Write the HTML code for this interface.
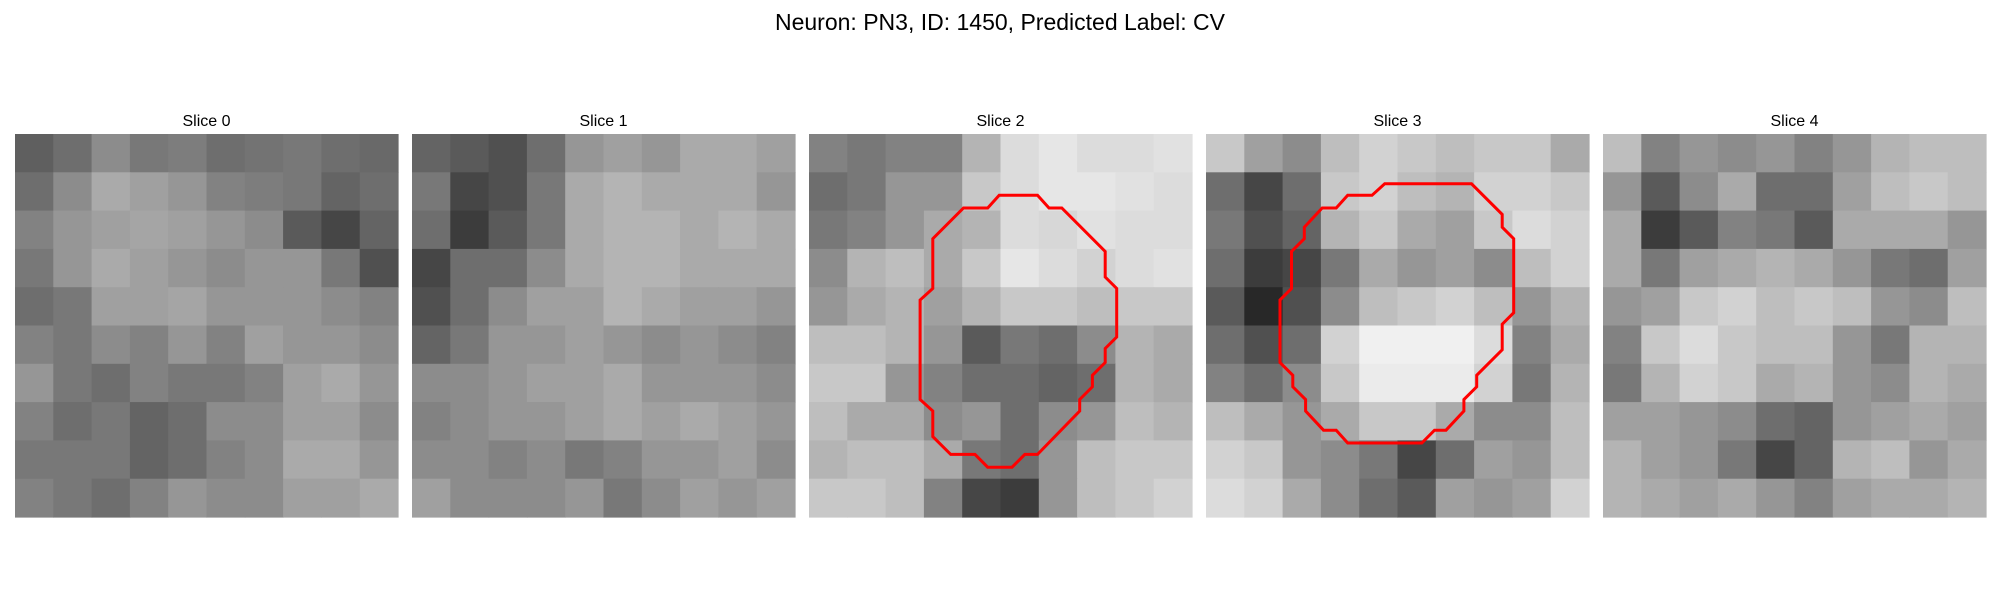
<!DOCTYPE html>
<html><head><meta charset="utf-8"><title>Neuron slices</title>
<style>
html,body{margin:0;padding:0;background:#fff;width:2000px;height:600px;overflow:hidden}
svg{display:block}
text{font-family:"Liberation Sans","DejaVu Sans",sans-serif;fill:#000}
</style></head>
<body>
<svg id="fig" width="2000" height="600" viewBox="0 0 2000 600" xmlns="http://www.w3.org/2000/svg">
<text x="1000" y="30" font-size="23" text-anchor="middle">Neuron: PN3, ID: 1450, Predicted Label: CV</text>
<g id="panels"></g>
</svg>
<script>
const sliceTitles = ["Slice 0","Slice 1","Slice 2","Slice 3","Slice 4"];
const slice0 = [
[95,110,140,120,125,110,115,120,110,105],
[110,140,170,160,150,130,125,120,100,110],
[130,150,160,165,160,150,140,90,70,100],
[120,150,170,160,150,140,150,150,120,80],
[110,120,160,160,165,150,150,150,140,130],
[130,120,140,130,150,130,160,150,150,140],
[150,120,110,130,120,120,130,160,170,150],
[130,110,120,100,110,140,140,160,160,140],
[120,120,120,100,110,130,140,170,170,150],
[130,120,110,130,150,140,140,160,160,170]];
const slice1 = [
[100,90,80,110,150,160,150,170,170,160],
[120,70,80,120,170,180,170,170,170,150],
[110,60,90,120,170,180,180,170,180,170],
[70,110,110,140,170,180,180,170,170,170],
[80,110,140,160,160,180,170,160,160,150],
[100,120,150,150,160,150,140,150,140,130],
[140,140,150,160,160,170,150,150,150,140],
[130,140,150,150,160,170,160,170,160,150],
[140,140,130,140,120,130,150,150,160,140],
[160,140,140,140,150,120,140,160,150,160]];
const slice2 = [
[130,120,130,130,180,220,230,220,220,225],
[110,120,150,150,200,220,230,230,225,220],
[120,130,150,170,180,220,215,225,220,220],
[140,180,190,170,200,230,220,210,220,225],
[150,170,180,160,180,200,200,190,200,200],
[190,190,180,150,90,120,110,140,180,170],
[200,200,150,130,110,110,100,110,180,170],
[190,170,170,140,150,110,140,150,190,180],
[180,190,190,170,120,110,150,190,200,200],
[200,200,190,130,70,60,150,190,200,210]];
const slice3 = [
[200,160,140,190,210,200,190,200,200,170],
[110,70,110,200,210,190,180,210,210,200],
[120,80,100,180,200,170,160,200,220,210],
[110,60,70,120,170,150,160,140,190,210],
[90,40,80,140,190,200,210,190,150,180],
[110,80,110,210,240,240,240,220,130,170],
[130,110,140,200,235,235,235,210,120,180],
[190,170,150,170,200,200,170,140,140,190],
[210,200,150,140,120,70,110,160,150,190],
[220,210,170,140,110,90,160,150,160,210]];
const slice4 = [
[190,130,150,140,150,130,150,180,190,190],
[150,90,140,170,110,110,160,190,200,190],
[170,60,90,130,120,90,170,170,170,150],
[170,120,160,170,180,170,150,120,110,160],
[150,160,200,210,190,200,190,150,140,190],
[130,200,220,200,190,190,150,120,180,180],
[120,180,210,200,170,180,150,140,180,170],
[160,160,150,140,110,100,150,160,170,160],
[180,160,150,120,70,100,180,190,150,170],
[180,170,160,170,150,130,160,170,170,180]];
const sliceGrids = [slice0, slice1, slice2, slice3, slice4];
// contour vertices in image pixel units (image is 30x30)
const contour2X = [14.9,17.9,18.8,19.8,23.2,23.2,24.1,24.1,23.2,23.2,22.2,22.2,21.2,21.2,17.9,16.9,15.9,14.0,13.0,11.1,9.7,9.7,8.7,8.7,9.7,9.7,12.1,14.0];
const contour2Y = [4.8,4.8,5.8,5.8,9.2,11.2,12.1,15.9,16.8,17.9,18.9,19.8,20.8,21.7,25.1,25.1,26.1,26.1,25.1,25.1,23.7,21.7,20.8,13.0,12.1,8.2,5.8,5.8];
const contour3X = [14.0,20.8,23.2,23.2,24.1,24.1,23.2,23.2,21.2,21.2,20.2,20.2,18.8,17.9,16.9,11.1,10.2,9.2,7.8,7.8,6.8,6.8,5.8,5.8,6.7,6.7,7.7,7.7,9.1,10.2,11.1,13.0];
const contour3Y = [3.9,3.9,6.3,7.3,8.2,14.0,14.9,16.9,18.9,19.8,20.8,21.7,23.2,23.2,24.2,24.2,23.2,23.2,21.7,20.8,19.8,18.9,17.9,13.0,12.1,9.2,8.2,7.3,5.8,5.8,4.8,4.8];
const contours = [null, null, [contour2X, contour2Y], [contour3X, contour3Y], null];

const NS = "http://www.w3.org/2000/svg";
const panelLeft = 15, panelStep = 397, panelTop = 134, panelSize = 383, imgPx = 30;
const root = document.getElementById("panels");
function px(v){ return v * panelSize / imgPx; }

sliceGrids.forEach((grid, p) => {
  const x0 = panelLeft + p * panelStep;
  const g = document.createElementNS(NS, "g");
  
  
  root.appendChild(g);

  const t = document.createElementNS(NS, "text");
  
  
  t.setAttribute("x", x0 + panelSize / 2);
  t.setAttribute("y", 126);
  t.setAttribute("font-size", "16");
  t.setAttribute("text-anchor", "middle");
  t.textContent = sliceTitles[p];
  g.appendChild(t);

  const n = grid.length, cs = panelSize / n;
  grid.forEach((row, r) => row.forEach((v, c) => {
    const rect = document.createElementNS(NS, "rect");
    
    
    rect.setAttribute("x", (x0 + c * cs).toFixed(2));
    rect.setAttribute("y", (panelTop + r * cs).toFixed(2));
    rect.setAttribute("width", (cs + 0.6).toFixed(2));
    rect.setAttribute("height", (cs + 0.6).toFixed(2));
    rect.setAttribute("fill", `rgb(${v},${v},${v})`);
    g.appendChild(rect);
  }));

  const ct = contours[p];
  if (ct) {
    const pts = ct[0].map((xv, i) => (x0 + px(xv)).toFixed(1) + "," + (panelTop + px(ct[1][i])).toFixed(1)).join(" ");
    const poly = document.createElementNS(NS, "polygon");
    
    
    poly.setAttribute("points", pts);
    poly.setAttribute("fill", "none");
    poly.setAttribute("stroke", "#ff0000");
    poly.setAttribute("stroke-width", "3");
    poly.setAttribute("stroke-linejoin", "miter");
    g.appendChild(poly);
  }
});
</script>
</body></html>
